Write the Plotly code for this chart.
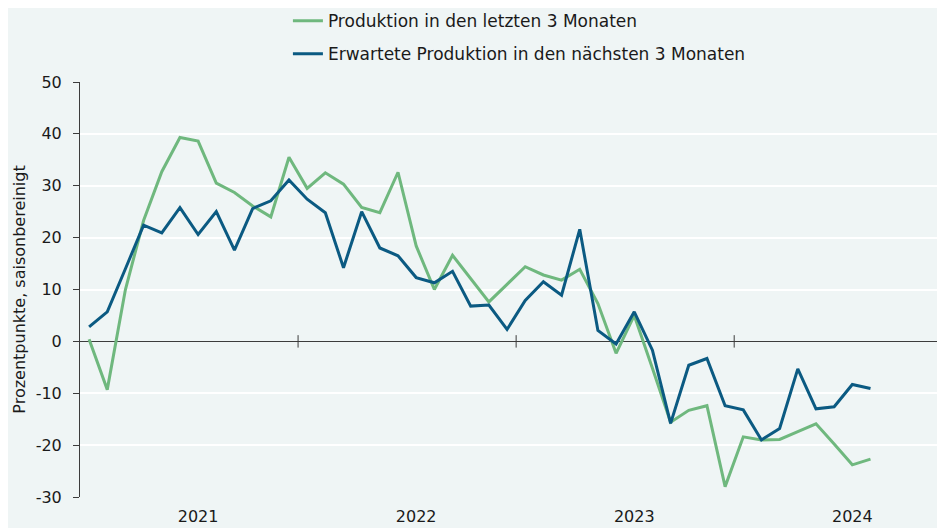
import plotly.graph_objects as go

months = [f"{y}-{m:02d}" for y in range(2021, 2025) for m in range(1, 13)][:44]

produktion_letzte = [0.4, -9.3, 10.0, 23.3, 32.7, 39.3, 38.6, 30.5, 28.7, 26.1, 24.0, 35.5,
                     29.5, 32.5, 30.3, 25.8, 24.8, 32.6, 18.4, 10.0, 16.6, 12.1, 7.6, 11.0,
                     14.4, 12.8, 11.8, 13.9, 7.3, -2.3, 5.0, -5.2, -15.6, -13.3, -12.4, -28.0,
                     -18.4, -19.0, -18.9, -17.4, -15.9, -19.8, -23.8, -22.7]

produktion_erwartet = [2.8, 5.7, 14.0, 22.4, 20.9, 25.8, 20.6, 25.0, 17.6, 25.6, 27.1, 31.1,
                       27.4, 24.8, 14.2, 25.0, 18.0, 16.5, 12.3, 11.3, 13.5, 6.8, 7.0, 2.3,
                       7.9, 11.5, 8.9, 21.6, 2.1, -0.5, 5.7, -1.7, -15.8, -4.6, -3.3, -12.4,
                       -13.2, -19.0, -16.8, -5.3, -13.0, -12.6, -8.3, -9.1]

series_names = ["Produktion in den letzten 3 Monaten",
                "Erwartete Produktion in den nächsten 3 Monaten"]
year_labels = ["2021", "2022", "2023", "2024"]
label_months = [f"{y}-07" for y in year_labels]
y_ticks = [-30, -20, -10, 0, 10, 20, 30, 40, 50]
y_tick_text = [str(v) for v in y_ticks]

GREEN = "#6fb87e"
BLUE = "#0b5a82"
BG = "#eff5f5"
DARK = "#3c3c3c"
FONT = "DejaVu Sans"

fig = go.Figure()
fig.add_trace(go.Scatter(x=months, y=produktion_letzte, mode="lines", name=series_names[0],
                         line=dict(color=GREEN, width=3), legendgroup="a"))
fig.add_trace(go.Scatter(x=months, y=produktion_erwartet, mode="lines", name=series_names[1],
                         line=dict(color=BLUE, width=3), legendgroup="b"))

# year boundary ticks on the zero line
for i, m in enumerate(months):
    if m.endswith("-01") and i > 0:
        fig.add_shape(type="line", xref="x", yref="y", x0=i - 0.5, x1=i - 0.5,
                      y0=-1.2, y1=1.2, line=dict(color=DARK, width=1))

fig.update_layout(
    width=945, height=528,
    margin=dict(l=72, r=8, t=74, b=39, autoexpand=False),
    paper_bgcolor=BG, plot_bgcolor=BG,
    font=dict(family=FONT, size=16, color="#1a1a1a"),
    showlegend=True,
    legend=dict(x=0.508, xanchor="center", y=1.19, yanchor="top", orientation="v",
                font=dict(size=17), tracegroupgap=8, bgcolor="rgba(0,0,0,0)"),
    xaxis=dict(type="category", range=[-0.5, 47.1], showgrid=False, zeroline=False,
               showline=False, tickmode="array", tickvals=label_months, ticktext=year_labels,
               ticks="", tickfont=dict(size=16), automargin=False, ticklabelstandoff=8),
    yaxis=dict(range=[-30, 50], tickmode="array", tickvals=y_ticks, ticktext=y_tick_text,
               showgrid=True, automargin=False,
               gridcolor="white", gridwidth=2, zeroline=True, zerolinecolor=DARK,
               zerolinewidth=1, showline=True, linecolor=DARK, linewidth=1,
               ticks="outside", ticklen=6, tickcolor=DARK, ticklabelstandoff=8,
               title=dict(text="Prozentpunkte, saisonbereinigt", standoff=6, font=dict(size=16))),
)

fig.write_html("out.html")
